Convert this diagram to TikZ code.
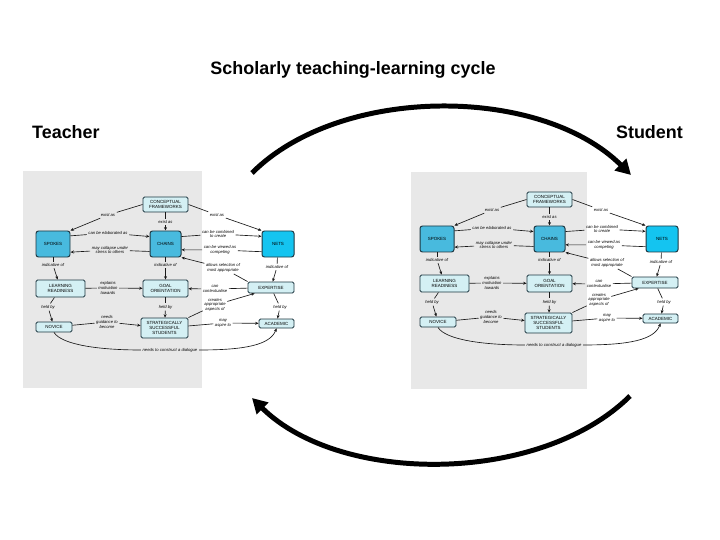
\documentclass[tikz,border=0pt]{standalone}
\usepackage{fontspec}
\setmainfont{Liberation Sans}
\usetikzlibrary{arrows.meta}
\definecolor{bigfill}{RGB}{72,186,222}
\definecolor{netfill}{RGB}{20,196,240}
\definecolor{smallfill}{RGB}{212,240,244}
\definecolor{nodeborder}{RGB}{30,55,65}
\definecolor{mapgray}{RGB}{232,232,232}
\definecolor{maplink}{RGB}{25,25,25}
\tikzset{
  bignode/.style={draw=nodeborder, line width=1pt, rounded corners=2.5pt, fill=bigfill,
    font=\fontsize{4.5}{5.1}\selectfont, align=center, inner sep=0pt},
  smallnode/.style={draw=nodeborder, line width=0.9pt, rounded corners=1.5pt, fill=smallfill,
    font=\fontsize{4.5}{5.1}\selectfont, align=center, inner sep=0pt},
  lbl/.style={font=\fontsize{4.2}{4.7}\selectfont\itshape, align=center, inner sep=1.5pt},
  link/.style={draw=maplink, line width=0.65pt},
  linkarrow/.style={link, -{Stealth[length=3.4pt,width=3pt]}},
  bigarrow/.style={line width=5pt, -{Triangle[length=15pt,width=16pt]}},
  titletext/.style={font=\fontsize{18}{21}\selectfont\bfseries, inner sep=0pt}
}
\newcommand{\conceptmap}{%
  \node[smallnode, minimum width=45bp, minimum height=15bp] (CF) at (165.5,-204.5) {CONCEPTUAL\\FRAMEWORKS};
  \node[bignode, minimum width=34bp, minimum height=26bp] (SP) at (53,-244) {SPOKES};
  \node[bignode, minimum width=31bp, minimum height=26bp] (CH) at (165.5,-244) {CHAINS};
  \node[bignode, fill=netfill, minimum width=32bp, minimum height=26bp] (NE) at (278,-244) {NETS};
  \node[smallnode, minimum width=49bp, minimum height=17bp] (LR) at (60.5,-288.5) {LEARNING\\READINESS};
  \node[smallnode, minimum width=45bp, minimum height=17bp] (GO) at (165.5,-288.5) {GOAL\\ORIENTATION};
  \node[smallnode, minimum width=46bp, minimum height=11bp] (EX) at (271,-287.5) {EXPERTISE};
  \node[smallnode, minimum width=36bp, minimum height=10bp] (NO) at (54,-327) {NOVICE};
  \node[smallnode, minimum width=47bp, minimum height=20bp] (SS) at (164.5,-328) {STRATEGICALLY\\SUCCESSFUL\\STUDENTS};
  \node[smallnode, minimum width=35bp, minimum height=9bp] (AC) at (276.5,-323.5) {ACADEMIC};
  % labels
  \node[lbl] (e1) at (108,-215) {exist as};
  \node[lbl] (e2) at (165.5,-222) {exist as};
  \node[lbl] (e3) at (217,-215) {exist as};
  \node[lbl] (l4) at (108,-233) {can be elaborated as};
  \node[lbl] (l5) at (110,-250) {may collapse under\\stress to others};
  \node[lbl] (l6) at (218,-234) {can be combined\\to create};
  \node[lbl] (l7) at (220,-250) {can be viewed as\\competing};
  \node[lbl] (l8) at (223,-268) {allows selection of\\most appropriate};
  \node[lbl] (i1) at (53,-265) {indicative of};
  \node[lbl] (i2) at (165.5,-265) {indicative of};
  \node[lbl] (i3) at (277,-267) {indicative of};
  \node[lbl] (m1) at (108,-288) {explains\\motivation\\towards};
  \node[lbl] (c1) at (215,-289) {can\\contextualise};
  \node[lbl] (c2) at (215,-305) {creates\\appropriate\\aspects of};
  \node[lbl] (h1) at (48,-307) {held by};
  \node[lbl] (h2) at (165.5,-307) {held by};
  \node[lbl] (h3) at (280,-307) {held by};
  \node[lbl] (g1) at (107,-322) {needs\\guidance to\\become};
  \node[lbl] (a1) at (223,-323) {may\\aspire to};
  \node[lbl] (d1) at (170,-350) {needs to construct a dialogue};
  % links
  \draw[link] (CF.west) -- (e1); \draw[linkarrow] (e1) -- (SP.north east);
  \draw[link] (CF) -- (e2); \draw[linkarrow] (e2) -- (CH);
  \draw[link] (CF.east) -- (e3); \draw[linkarrow] (e3) -- (NE.north west);
  \draw[link] (SP.25) -- (l4); \draw[linkarrow] (l4) -- (CH.155);
  \draw[link] (CH.205) -- (l5); \draw[linkarrow] (l5) -- (SP.335);
  \draw[link] (CH.25) -- (l6); \draw[linkarrow] (l6) -- (NE.155);
  \draw[link] (NE.205) -- (l7); \draw[linkarrow] (l7) -- (CH.340);
  \draw[link] (EX.north west) -- (l8); \draw[linkarrow] (l8) -- (CH.south east);
  \draw[link] (SP) -- (i1); \draw[linkarrow] (i1) -- (LR);
  \draw[link] (CH) -- (i2); \draw[linkarrow] (i2) -- (GO);
  \draw[link] (NE) -- (i3); \draw[linkarrow] (i3) -- (EX);
  \draw[link] (LR) -- (m1); \draw[linkarrow] (m1) -- (GO);
  \draw[link] (EX) -- (c1); \draw[linkarrow] (c1) -- (GO);
  \draw[link] (SS.north east) -- (c2); \draw[linkarrow] (c2) -- (EX.200);
  \draw[link] (LR) -- (h1); \draw[linkarrow] (h1) -- (NO);
  \draw[link] (GO) -- (h2); \draw[linkarrow] (h2) -- (SS);
  \draw[link] (EX) -- (h3); \draw[linkarrow] (h3) -- (AC);
  \draw[link] (NO) -- (g1); \draw[linkarrow] (g1) -- (SS);
  \draw[link] (SS) -- (a1); \draw[linkarrow] (a1) -- (AC);
  \draw[link] (NO.south) .. controls (62,-345) and (100,-350) .. (d1.west);
  \draw[linkarrow] (d1.east) .. controls (245,-350) and (270,-345) .. (AC.south);
}
\begin{document}
\begin{tikzpicture}[x=1bp,y=1bp]
  \useasboundingbox (0,0) rectangle (720,-540);
  \fill[white] (0,0) rectangle (720,-540);
  \node[titletext] (title) at (353,-70) {Scholarly teaching-learning cycle};
  \node[titletext, anchor=west] (teacher) at (32,-132) {Teacher};
  \node[titletext, anchor=east] (student) at (683,-132) {Student};
  \fill[mapgray] (23,-171) rectangle (202,-388);
  \fill[mapgray] (411,-172) rectangle (587,-389);
  \begin{scope}[name prefix=L-]
    \conceptmap
  \end{scope}
  \begin{scope}[name prefix=R-, shift={(384,5)}]
    \conceptmap
  \end{scope}
  \coordinate (topstart) at (252,-173);
  \coordinate (topend) at (631,-175);
  \coordinate (botstart) at (630,-396);
  \coordinate (botend) at (252,-398);
  \draw[bigarrow] (topstart) .. controls (340,-85) and (540,-85) .. (topend);
  \draw[bigarrow] (botstart) .. controls (540,-485) and (340,-485) .. (botend);
\end{tikzpicture}
\end{document}
